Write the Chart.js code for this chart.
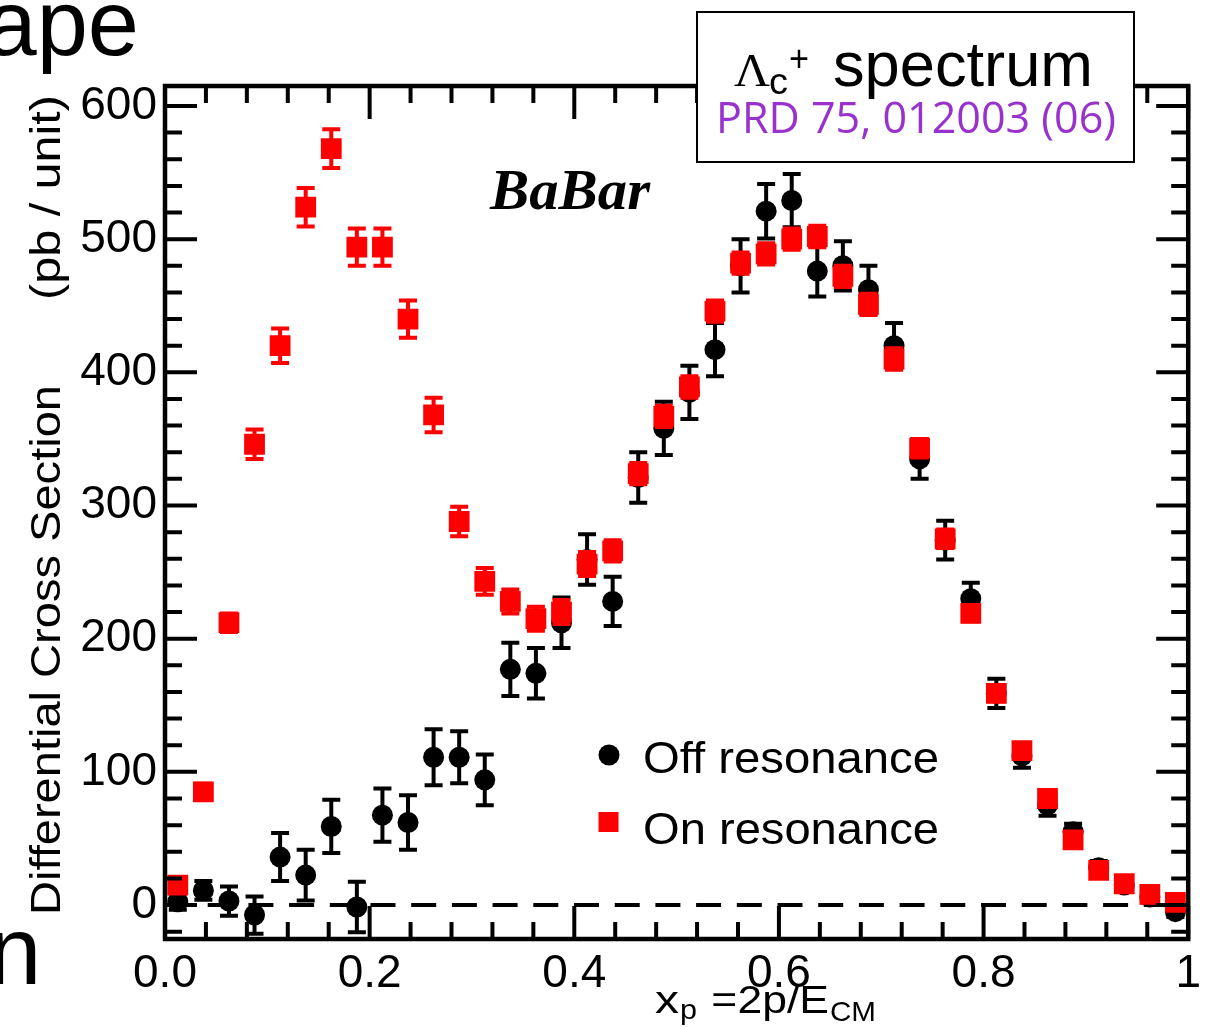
<!DOCTYPE html>
<html>
<head>
<meta charset="utf-8">
<script src="https://cdn.jsdelivr.net/npm/chart.js@4/dist/chart.umd.min.js"></script>
<style>
  html, body { margin: 0; padding: 0; background: #fff; overflow: hidden; }
  #wrap { width: 1209px; height: 1027px; position: relative; }
</style>
</head>
<body>
<div id="wrap"><canvas id="chart" width="1209" height="1027"></canvas></div>
<script>
// Lambda_c+ differential cross section vs x_p, 40 bins of width 0.025
const binCenters = [0.0125, 0.0375, 0.0625, 0.0875, 0.1125, 0.1375, 0.1625, 0.1875, 0.2125, 0.2375,
                    0.2625, 0.2875, 0.3125, 0.3375, 0.3625, 0.3875, 0.4125, 0.4375, 0.4625, 0.4875,
                    0.5125, 0.5375, 0.5625, 0.5875, 0.6125, 0.6375, 0.6625, 0.6875, 0.7125, 0.7375,
                    0.7625, 0.7875, 0.8125, 0.8375, 0.8625, 0.8875, 0.9125, 0.9375, 0.9625, 0.9875];

// On resonance (pb / unit) and its error
const onRes    = [15, 85, 212, 346, 420, 524, 568, 494, 494, 440,
                  368, 288, 243, 228, 215, 220, 256, 266, 324, 367,
                  389, 446, 482, 489, 500, 502, 472, 451, 410, 343,
                  275, 219, 159, 116, 80, 49, 26, 16, 8, 2];
const onResErr = [5, 6, 7, 11, 13, 14.5, 14.5, 14, 14, 14,
                  13, 11, 10, 9, 9, 9, 9, 8, 8, 8,
                  8, 8, 8, 8, 8, 8, 8, 8, 8, 7,
                  7, 6, 6, 5, 5, 4, 3, 3, 2, 2];

// Off resonance (pb / unit) and its error
const offRes    = [2.5, 11, 3, -7.5, 36, 22.5, 59, -1.5, 67.5, 62,
                   111, 111, 94, 177, 174, 212, 259.5, 228, 321, 358,
                   385, 417, 480, 521, 529, 476, 480, 462, 420, 335,
                   274, 230, 159, 112, 75, 55, 28, 15, 6, -5];
const offResErr = [6, 7, 11, 14, 18, 19, 20, 19, 20, 20.5,
                   21, 19.5, 19, 20, 19, 19, 19, 18.5, 19, 20,
                   20, 20, 20, 20.5, 20, 19, 18.5, 18, 17, 15,
                   14.5, 12, 11, 9, 8, 6, 5, 4, 4, 4];

const xTickValues = [0, 0.2, 0.4, 0.6, 0.8, 1];
const xTickLabels = ['0.0', '0.2', '0.4', '0.6', '0.8', '1'];
const yTickValues = [0, 100, 200, 300, 400, 500, 600];
const yTickLabels = ['0', '100', '200', '300', '400', '500', '600'];

const seriesNames = ['On resonance', 'Off resonance'];

const SANS = '"Liberation Sans", Arial, Helvetica, sans-serif';
const SERIF = '"Liberation Serif", "Times New Roman", serif';

// draw a string with an optional horizontal stretch so it spans a given width
function stretchText(ctx, text, x, y, font, color, width, align) {
  ctx.save();
  ctx.font = font;
  ctx.fillStyle = color;
  ctx.textBaseline = 'alphabetic';
  ctx.textAlign = 'left';
  const w = ctx.measureText(text).width;
  const sx = width ? width / w : 1;
  const drawn = w * sx;
  let left = x;
  if (align === 'center') left = x - drawn / 2;
  if (align === 'right') left = x - drawn;
  ctx.translate(left, y);
  ctx.scale(sx, 1);
  ctx.fillText(text, 0, 0);
  ctx.restore();
  return left + drawn;
}

// error bars with end caps, drawn just before each dataset's markers
const errorBars = {
  id: 'errorBars',
  beforeDatasetDraw(chart, args) {
    const ds = chart.data.datasets[args.index];
    if (!ds.errors) return;
    const { ctx, chartArea } = chart;
    const xs = chart.scales.x, ys = chart.scales.y;
    ctx.save();
    ctx.beginPath();
    ctx.rect(chartArea.left, chartArea.top, chartArea.right - chartArea.left, chartArea.bottom - chartArea.top);
    ctx.clip();
    ctx.strokeStyle = ds.backgroundColor;
    ctx.lineWidth = 4;
    ds.data.forEach((p, i) => {
      const e = ds.errors[i];
      const px = xs.getPixelForValue(p.x);
      const yt = ys.getPixelForValue(p.y + e);
      const yb = ys.getPixelForValue(p.y - e);
      ctx.beginPath();
      ctx.moveTo(px, yt); ctx.lineTo(px, yb);
      ctx.moveTo(px - 9, yt); ctx.lineTo(px + 9, yt);
      ctx.moveTo(px - 9, yb); ctx.lineTo(px + 9, yb);
      ctx.stroke();
    });
    ctx.restore();
  }
};

// dashed zero line
const zeroLine = {
  id: 'zeroLine',
  beforeDatasetsDraw(chart) {
    const { ctx, chartArea } = chart;
    const y0 = chart.scales.y.getPixelForValue(0);
    ctx.save();
    ctx.strokeStyle = '#000';
    ctx.lineWidth = 4;
    ctx.setLineDash([25, 15.7]);
    ctx.beginPath();
    ctx.moveTo(chartArea.left + 2, y0);
    ctx.lineTo(chartArea.right, y0);
    ctx.stroke();
    ctx.restore();
  }
};

// frame with inward major/minor ticks on all four sides
const frameTicks = {
  id: 'frameTicks',
  afterDatasetsDraw(chart) {
    const { ctx, chartArea: a } = chart;
    const xs = chart.scales.x, ys = chart.scales.y;
    ctx.save();
    ctx.strokeStyle = '#000';
    ctx.lineWidth = 4;
    ctx.beginPath();
    for (let k = 0; k <= 25; k++) {
      const v = k * 0.04;
      const px = xs.getPixelForValue(v);
      const len = (k % 5 === 0) ? 33 : 17;
      ctx.moveTo(px, a.bottom); ctx.lineTo(px, a.bottom - len);
      ctx.moveTo(px, a.top); ctx.lineTo(px, a.top + len);
    }
    for (let v = -20; v <= 600; v += 20) {
      const py = ys.getPixelForValue(v);
      const len = (v % 100 === 0) ? 32 : 17;
      ctx.moveTo(a.left, py); ctx.lineTo(a.left + len, py);
      ctx.moveTo(a.right, py); ctx.lineTo(a.right - len, py);
    }
    ctx.stroke();
    ctx.lineWidth = 4.5;
    ctx.strokeRect(a.left, a.top, a.right - a.left, a.bottom - a.top);
    ctx.restore();
  }
};

// annotations: slide text, experiment label, legend, title box, axis titles
const annotations = {
  id: 'annotations',
  afterDraw(chart) {
    const { ctx } = chart;
    // surrounding slide text, cut off at the page edge
    stretchText(ctx, 'ape', 139, 55, '92px ' + SANS, '#000', null, 'right');
    stretchText(ctx, 'n', -12, 984, '96px ' + SANS, '#000');

    // experiment label
    stretchText(ctx, 'BaBar', 490, 209, 'italic bold 56px ' + SERIF, '#000', 160);

    // legend, from the dataset styles
    const rows = [
      { ds: chart.data.datasets[1], my: 755, ty: 773 },
      { ds: chart.data.datasets[0], my: 822, ty: 844 }
    ];
    rows.forEach(r => {
      ctx.save();
      ctx.fillStyle = r.ds.backgroundColor;
      if (r.ds.pointStyle === 'circle') {
        ctx.beginPath(); ctx.arc(609, r.my, 10.5, 0, Math.PI * 2); ctx.fill();
      } else {
        ctx.fillRect(598.5, r.my - 10, 20, 20);
      }
      ctx.restore();
      stretchText(ctx, r.ds.label, 643, r.ty, '44px ' + SANS, '#000', 296);
    });

    // title box
    ctx.save();
    ctx.fillStyle = '#fff';
    ctx.fillRect(697, 12, 437, 150);
    ctx.strokeStyle = '#000';
    ctx.lineWidth = 2;
    ctx.strokeRect(697, 12, 437, 150);
    ctx.restore();
    stretchText(ctx, 'Λ', 734, 86, '46px ' + SERIF, '#000', 36);
    stretchText(ctx, 'c', 769, 94, '36px ' + SANS, '#000', 19);
    stretchText(ctx, '+', 789, 71, '36px ' + SANS, '#000', 20);
    stretchText(ctx, 'spectrum', 833, 86, '63px ' + SANS, '#000', 260);
    stretchText(ctx, 'PRD 75, 012003 (06)', 716, 133, '44px "Open Sans", ' + SANS, '#9932cc', 400);

    // x axis title: x_p =2p/E_CM
    let cx = stretchText(ctx, 'x', 655, 1013, '38px ' + SANS, '#000', 24);
    cx = stretchText(ctx, 'p', cx + 1, 1019, '28px ' + SANS, '#000', 17);
    cx = stretchText(ctx, ' =2p/E', cx + 2, 1013, '38px ' + SANS, '#000', 130);
    stretchText(ctx, 'CM', cx + 1, 1021, '28px ' + SANS, '#000', 46);

    // y axis title, rotated
    ctx.save();
    ctx.translate(60, 0);
    ctx.rotate(-Math.PI / 2);
    stretchText(ctx, 'Differential Cross Section', -915, 0, '42px ' + SANS, '#000', 530);
    stretchText(ctx, '(pb / unit)', -300, 0, '42px ' + SANS, '#000', 205);
    ctx.restore();
  }
};

const toPoints = (vals) => binCenters.map((x, i) => ({ x: x, y: vals[i] }));

new Chart(document.getElementById('chart'), {
  type: 'scatter',
  data: {
    datasets: [
      {
        label: seriesNames[0],
        data: toPoints(onRes),
        errors: onResErr,
        pointStyle: 'rect',
        pointRadius: 14.7,
        backgroundColor: '#ff0000',
        borderWidth: 0,
        order: 0
      },
      {
        label: seriesNames[1],
        data: toPoints(offRes),
        errors: offResErr,
        pointStyle: 'circle',
        pointRadius: 10.5,
        backgroundColor: '#000000',
        borderWidth: 0,
        order: 1
      }
    ]
  },
  options: {
    responsive: false,
    animation: false,
    events: [],
    layout: { padding: { left: 0, right: 19, top: 86, bottom: 0 } },
    plugins: { legend: { display: false }, tooltip: { enabled: false } },
    scales: {
      x: {
        type: 'linear', min: 0, max: 1,
        grid: { display: false, drawTicks: false },
        border: { display: false },
        afterBuildTicks(s) { s.ticks = xTickValues.map(v => ({ value: v })); },
        afterFit(s) { s.height = 88; },
        ticks: {
          autoSkip: false, maxRotation: 0, padding: 8, color: '#000',
          font: { family: SANS, size: 46 },
          callback: (v, i) => xTickLabels[i]
        }
      },
      y: {
        type: 'linear', min: -25.5, max: 615,
        grid: { display: false, drawTicks: false },
        border: { display: false },
        afterBuildTicks(s) { s.ticks = yTickValues.map(v => ({ value: v })); },
        afterFit(s) { s.width = 165; },
        ticks: {
          autoSkip: false, padding: 8, color: '#000',
          font: { family: SANS, size: 46 },
          callback: (v, i) => yTickLabels[i]
        }
      }
    }
  },
  plugins: [errorBars, zeroLine, frameTicks, annotations]
});
</script>
</body>
</html>
